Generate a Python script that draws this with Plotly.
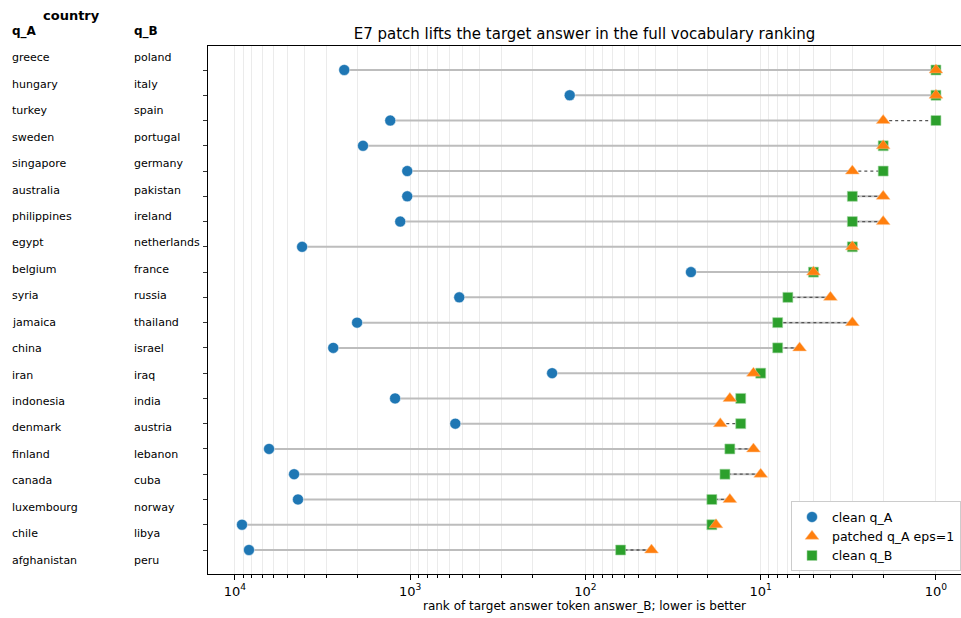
import plotly.graph_objects as go

q_A = ["greece", "hungary", "turkey", "sweden", "singapore", "australia", "philippines",
       "egypt", "belgium", "syria", "jamaica", "china", "iran", "indonesia", "denmark",
       "finland", "canada", "luxembourg", "chile", "afghanistan"]
q_B = ["poland", "italy", "spain", "portugal", "germany", "pakistan", "ireland",
       "netherlands", "france", "russia", "thailand", "israel", "iraq", "india", "austria",
       "lebanon", "cuba", "norway", "libya", "peru"]
clean_qA = [2380, 123, 1300, 1860, 1040, 1040, 1140, 4140, 25, 525, 2010, 2750, 155,
            1220, 553, 6390, 4600, 4370, 9120, 8320]
patched_qA = [1, 1, 2, 2, 3, 2, 2, 3, 5, 4, 3, 6, 11, 15, 17, 11, 10, 15, 18, 42]
clean_qB = [1, 1, 1, 2, 2, 3, 3, 3, 5, 7, 8, 8, 10, 13, 13, 15, 16, 19, 19, 63]
x_ticks = [10000, 1000, 100, 10, 1]
x_ticktext = ["10<sup>4</sup>", "10<sup>3</sup>", "10<sup>2</sup>", "10<sup>1</sup>", "10<sup>0</sup>"]

FONT = "DejaVu Sans"
n = len(q_A)
rows = list(range(n))

fig = go.Figure()

# solid grey connectors clean q_A -> patched
sx, sy = [], []
for i in rows:
    sx += [clean_qA[i], patched_qA[i], None]
    sy += [i, i, None]
fig.add_trace(go.Scatter(x=sx, y=sy, mode="lines", line=dict(color="#bdbdbd", width=2),
                         showlegend=False, hoverinfo="skip"))
# dotted connectors patched -> clean q_B
dx, dy = [], []
for i in rows:
    dx += [patched_qA[i], clean_qB[i], None]
    dy += [i, i, None]
fig.add_trace(go.Scatter(x=dx, y=dy, mode="lines", line=dict(color="#555555", width=1.3, dash="dot"),
                         showlegend=False, hoverinfo="skip"))

fig.add_trace(go.Scatter(x=clean_qA, y=rows, mode="markers", name="clean q_A", legendrank=1,
                         marker=dict(symbol="circle", size=11, color="#1f77b4",
                                     line=dict(color="white", width=0.5))))
fig.add_trace(go.Scatter(x=clean_qB, y=rows, mode="markers", name="clean q_B", legendrank=3,
                         marker=dict(symbol="square", size=10, color="#2ca02c",
                                     line=dict(color="#a6d6a6", width=0.6))))
fig.add_trace(go.Scatter(x=patched_qA, y=rows, mode="markers", name="patched q_A eps=1", legendrank=2,
                         marker=dict(symbol="triangle-up", size=12, color="#ff7f0e",
                                     line=dict(color="#ffbf86", width=0.5))))

minor_vals = [m * 10 ** e for e in range(0, 5) for m in range(2, 10)]

fig.update_layout(
    width=961, height=618,
    margin=dict(l=208, r=0, t=46, b=44),
    paper_bgcolor="white", plot_bgcolor="white",
    font=dict(family=FONT, color="black", size=12),
    title=dict(text="E7 patch lifts the target answer in the full vocabulary ranking",
               x=0.5, xref="paper", xanchor="center", y=1 - 34 / 618, yref="container",
               yanchor="middle", font=dict(size=15, family=FONT)),
    legend=dict(x=1.0, xanchor="right", y=0.005, yanchor="bottom", bgcolor="white",
                bordercolor="#cccccc", borderwidth=1, font=dict(size=12.5, family=FONT),
                traceorder="normal"),
    showlegend=True,
)

fig.update_xaxes(
    type="log", range=[4.154, -0.143],
    tickvals=x_ticks, ticktext=x_ticktext, ticks="outside", ticklen=5, tickcolor="black",
    tickfont=dict(size=13, family=FONT),
    showline=True, linecolor="black", linewidth=1, mirror=True,
    showgrid=True, gridcolor="#ebebeb", gridwidth=1, zeroline=False,
    minor=dict(tickvals=minor_vals, ticks="outside", ticklen=3, tickcolor="black",
               showgrid=True, gridcolor="#ebebeb", gridwidth=1),
    title=dict(text="rank of target answer token answer_B; lower is better",
               font=dict(size=12, family=FONT), standoff=4),
)
fig.update_yaxes(
    range=[n - 1 + 0.95, -0.95], tickvals=rows, showticklabels=False,
    ticks="outside", ticklen=4, tickcolor="#333333",
    showline=True, linecolor="black", linewidth=1, mirror=True,
    showgrid=False, zeroline=False,
)

# left table
plot_top, plot_bot, plot_left, plot_w = 46, 574, 208, 753
def py(ypix):
    return (plot_bot - ypix) / (plot_bot - plot_top)
def px(xpix):
    return (xpix - plot_left) / plot_w

row_top, row_bot = 58, 560
for i in rows:
    ypix = row_top + i * (row_bot - row_top) / (n - 1)
    fig.add_annotation(text=q_A[i], x=px(10), y=py(ypix), xref="paper", yref="paper",
                       xanchor="left", yanchor="middle", showarrow=False,
                       font=dict(size=11, family=FONT))
    fig.add_annotation(text=q_B[i], x=px(132), y=py(ypix), xref="paper", yref="paper",
                       xanchor="left", yanchor="middle", showarrow=False,
                       font=dict(size=11, family=FONT))
fig.add_annotation(text="<b>q_A</b>", x=px(10), y=py(31), xref="paper", yref="paper",
                   xanchor="left", yanchor="middle", showarrow=False, font=dict(size=12, family=FONT))
fig.add_annotation(text="<b>q_B</b>", x=px(132), y=py(31), xref="paper", yref="paper",
                   xanchor="left", yanchor="middle", showarrow=False, font=dict(size=12, family=FONT))
fig.add_annotation(text="<b>country</b>", x=px(71), y=py(15), xref="paper", yref="paper",
                   xanchor="center", yanchor="middle", showarrow=False, font=dict(size=13, family=FONT))

fig.write_html("out.html")
